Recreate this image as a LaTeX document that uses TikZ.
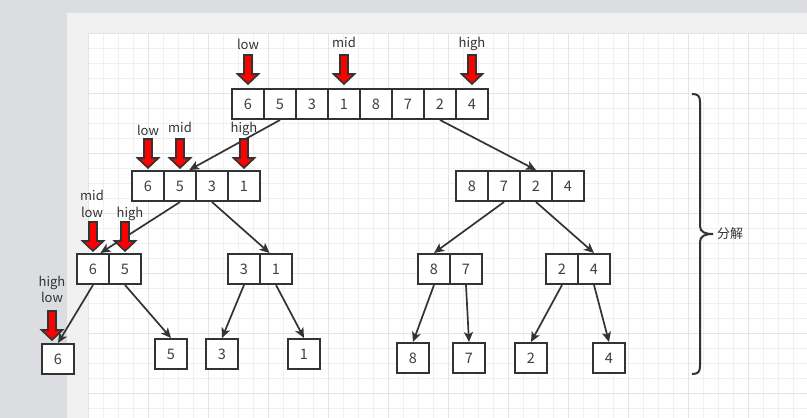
\documentclass[tikz,border=0pt]{standalone}
\usepackage{fontspec}
\setmainfont{Noto Sans CJK SC}
\usepackage{xcolor}
\definecolor{MSline}{HTML}{333333}
\definecolor{MStext}{HTML}{404040}
\definecolor{MSred}{HTML}{FF0000}
\definecolor{MSdesk}{HTML}{DCDDE1}
\definecolor{MSpage}{HTML}{F1F1F1}
\definecolor{MSgrid}{HTML}{F0F0F0}
\definecolor{MSgridmajor}{HTML}{E4E4E4}
\usepackage{tikz}
\usetikzlibrary{calc, arrows.meta, positioning}

\begin{document}
\begin{tikzpicture}[x=1pt, y=-1pt]
\tikzset{
  cell/.style={draw=MSline, line width=2pt, fill=white, minimum width=32pt,
    minimum height=30pt, inner sep=0pt, text=MStext,
    font=\fontsize{14.5}{16}\selectfont},
  lbl/.style={anchor=base, inner sep=0pt, text=MSline,
    font=\fontsize{13}{15}\selectfont},
  link/.style={draw=MSline, line width=1.7pt,
    -{Stealth[length=10pt, width=9pt, inset=2.5pt]}},
  ptrline/.style={draw=MSline, line width=1.6pt, fill=MSred, line join=miter},
  ptr/.pic={
    \draw[ptrline] (0,0) -- (-10.5,-10) -- (-4,-10) -- (-4,-29)
      -- (4,-29) -- (4,-10) -- (10.5,-10) -- cycle;
  },
}
  \useasboundingbox (0,0) rectangle (807,418);

  % Canvas: desk, page margin, grid
  \fill[MSdesk] (0,0) rectangle (807,418);
  \fill[MSpage] (67,13) rectangle (807,418);
  \fill[white] (88,33) rectangle (807,418);
  \foreach \gx in {88,103,...,807}
    \draw[MSgrid, line width=0.8pt] (\gx,33) -- (\gx,418);
  \foreach \gy in {33,48,...,418}
    \draw[MSgrid, line width=0.8pt] (88,\gy) -- (807,\gy);
  \foreach \gx in {88,148,...,807}
    \draw[MSgridmajor, line width=0.8pt] (\gx,33) -- (\gx,418);
  \foreach \gy in {33,93,...,418}
    \draw[MSgridmajor, line width=0.8pt] (88,\gy) -- (807,\gy);

  % Level 1: whole array
  \foreach \v [count=\i] in {6,5,3,1,8,7,2,4}
    \node[cell] (t\i) at ({216+32*\i},104) {\v};

  % Level 2
  \foreach \v [count=\i] in {6,5,3,1}
    \node[cell] (la\i) at ({116+32*\i},186) {\v};
  \foreach \v [count=\i] in {8,7,2,4}
    \node[cell] (ra\i) at ({440+32*\i},186) {\v};

  % Level 3
  \foreach \v [count=\i] in {6,5}
    \node[cell] (a\i) at ({61+32*\i},269) {\v};
  \foreach \v [count=\i] in {3,1}
    \node[cell] (b\i) at ({212+32*\i},269) {\v};
  \foreach \v [count=\i] in {8,7}
    \node[cell] (d\i) at ({402+32*\i},269) {\v};
  \foreach \v [count=\i] in {2,4}
    \node[cell] (e\i) at ({530+32*\i},269) {\v};

  % Level 4: single elements
  \node[cell] (lf1) at (58,359) {6};
  \node[cell] (lf2) at (171,354) {5};
  \node[cell] (lf3) at (222,354) {3};
  \node[cell] (lf4) at (304,354) {1};
  \node[cell] (lf5) at (413,358) {8};
  \node[cell] (lf6) at (469,358) {7};
  \node[cell] (lf7) at (531,358) {2};
  \node[cell] (lf8) at (609,358) {4};

  % Split connectors
  \draw[link] (t2.south) -- (la2.60);
  \draw[link] (t7.south) -- (ra3.north);
  \draw[link] (la2.south) -- (a1.65);
  \draw[link] (la3.south) -- (b2.112);
  \draw[link] (ra2.south) -- (d1.north);
  \draw[link] (ra3.south) -- (e2.north);
  \draw[link] (a1.south) -- (lf1.north);
  \draw[link] (a2.south) -- (lf2.north);
  \draw[link] (b1.south) -- (lf3.north);
  \draw[link] (b2.south) -- (lf4.north);
  \draw[link] (d1.south) -- (lf5.north);
  \draw[link] (d2.south) -- (lf6.north);
  \draw[link] (e1.south) -- (lf7.north);
  \draw[link] (e2.south) -- (lf8.north);

  % Pointers low / mid / high
  \pic at ($(t1.north)+(0,-4)$) {ptr};
  \pic at ($(t4.north)+(0,-4)$) {ptr};
  \pic at ($(t8.north)+(0,-4)$) {ptr};
  \node[lbl] (tlow) at (248,49) {low};
  \node[lbl] (tmid) at (344,47) {mid};
  \node[lbl] (thigh) at (472,47) {high};

  \pic at ($(la1.north)+(0,-2)$) {ptr};
  \pic at ($(la2.north)+(0,-2)$) {ptr};
  \pic at ($(la4.north)+(0,-2)$) {ptr};
  \node[lbl] (llow) at (148,135) {low};
  \node[lbl] (lmid) at (180,132) {mid};
  \node[lbl] (lhigh) at (244,132) {high};

  \pic at ($(a1.north)+(0,-2)$) {ptr};
  \pic at ($(a2.north)+(0,-2)$) {ptr};
  \node[lbl] (amid) at (92,200) {mid};
  \node[lbl] (alow) at (92,217) {low};
  \node[lbl] (ahigh) at (130,217) {high};

  \pic at (52,340) {ptr};
  \node[lbl] (fhigh) at (52,286) {high};
  \node[lbl] (flow) at (52,302) {low};

  % Brace: decomposition
  \draw[MSline, line width=2pt]
    (692,94) .. controls (698,94) and (700,96) .. (700,102) -- (700,226)
    .. controls (700,232) and (705,234) .. (713,234)
    .. controls (705,234) and (700,236) .. (700,242) -- (700,366)
    .. controls (700,372) and (698,374) .. (692,374);
  \node[lbl, anchor=west] (split) at (717,234) {分解};

\end{tikzpicture}
\end{document}
